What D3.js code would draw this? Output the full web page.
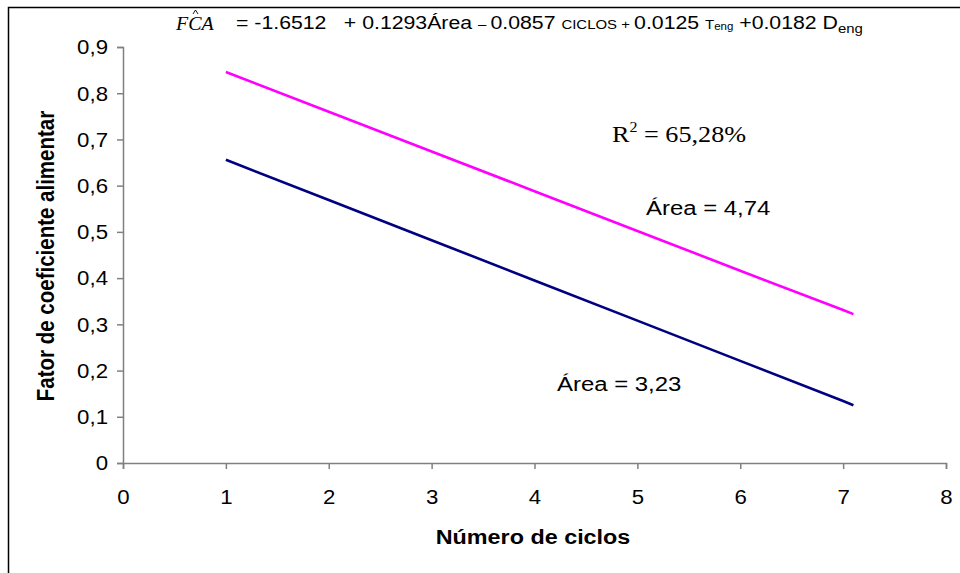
<!DOCTYPE html>
<html>
<head>
<meta charset="utf-8">
<script src="https://cdn.jsdelivr.net/npm/d3@7"></script>
<style>
  html, body { margin: 0; padding: 0; background: #fff; }
  svg { display: block; }
</style>
</head>
<body>
<svg id="chart" width="960" height="573"></svg>
<script>
// Number of cycles on the x axis
const ciclos = [1, 2, 3, 4, 5, 6, 7, 7.1];
// Predicted feed-coefficient factor for two pond areas
const fcaArea474 = [0.846, 0.760, 0.674, 0.588, 0.502, 0.416, 0.331, 0.322];
const fcaArea323 = [0.656, 0.569, 0.482, 0.395, 0.308, 0.221, 0.134, 0.125];
const seriesNames = ["Área = 4,74", "Área = 3,23"];
const seriesColors = ["#ff00ff", "#000080"];
const xTicks = [0, 1, 2, 3, 4, 5, 6, 7, 8];
const yTicks = [0, 0.1, 0.2, 0.3, 0.4, 0.5, 0.6, 0.7, 0.8, 0.9];

const svg = d3.select("#chart");
const fmt = d => String(d).replace(".", ",");
const sans = "Arial, 'Liberation Sans', sans-serif";
const serif = "'Liberation Serif', 'Times New Roman', serif";
const SX = 1.14; // horizontal widening of the lettering

// place a text at (x, y) and widen it horizontally around that anchor
function widen(sel, sx = SX) {
  sel.each(function () {
    const t = d3.select(this);
    const x = +t.attr("x") || 0, y = +t.attr("y") || 0;
    t.attr("x", 0).attr("y", 0)
      .attr("transform", `translate(${x},${y}) scale(${sx},1)`);
  });
  return sel;
}

// outer frame (top and left edges visible)
svg.append("path")
  .attr("d", "M8.5,573 L8.5,7.5 L960,7.5")
  .attr("fill", "none").attr("stroke", "#000").attr("stroke-width", 1.5);

const x = d3.scaleLinear().domain([0, 8]).range([123, 946]);
const y = d3.scaleLinear().domain([0, 0.9]).range([463, 47]);

const axisColor = "#808080";

// x axis
const gx = svg.append("g").attr("transform", `translate(0,${y(0)})`)
  .call(d3.axisBottom(x).tickValues(xTicks).tickFormat(fmt).tickSize(6));
// y axis
const gy = svg.append("g").attr("transform", `translate(${x(0)},0)`)
  .call(d3.axisLeft(y).tickValues(yTicks).tickFormat(fmt).tickSize(6));

[gx, gy].forEach(g => {
  g.select(".domain").attr("stroke", axisColor).attr("stroke-width", 1.5);
  g.selectAll(".tick line").attr("stroke", axisColor).attr("stroke-width", 1.5);
  g.selectAll(".tick text").attr("fill", "#000")
    .style("font-family", sans).style("font-size", "19.5px");
});
gx.selectAll(".tick text").attr("x", 0).attr("y", 0).attr("dy", null)
  .attr("transform", `translate(0,41) scale(${SX},1)`);
gy.selectAll(".tick text").attr("x", 0).attr("y", 0).attr("dy", "0.35em")
  .attr("transform", `translate(-15,0) scale(${SX},1)`);

// axis titles
widen(svg.append("text")
  .attr("x", 533).attr("y", 544).attr("text-anchor", "middle")
  .style("font-family", sans)
  .style("font-size", "20.5px").style("font-weight", "bold")
  .text("Número de ciclos"));
svg.append("text")
  .attr("transform", `translate(54,256) rotate(-90) scale(1,${SX})`).attr("text-anchor", "middle")
  .style("font-family", sans)
  .style("font-size", "20.5px").style("font-weight", "bold")
  .text("Fator de coeficiente alimentar");

// regression lines
const line = d3.line().x((d, i) => x(ciclos[i])).y(d => y(d));
[fcaArea474, fcaArea323].forEach((vals, k) => {
  svg.append("path").datum(vals)
    .attr("d", line)
    .attr("fill", "none")
    .attr("stroke", seriesColors[k])
    .attr("stroke-width", 2.6)
    .attr("stroke-linejoin", "round");
});

// line labels
widen(svg.append("text").attr("x", 646).attr("y", 215)
  .style("font-family", sans).style("font-size", "21px").text(seriesNames[0]));
widen(svg.append("text").attr("x", 557).attr("y", 391)
  .style("font-family", sans).style("font-size", "21px").text(seriesNames[1]));

// coefficient of determination
const r2 = widen(svg.append("text").attr("x", 612).attr("y", 142)
  .style("font-family", serif).style("font-size", "23px"));
r2.append("tspan").text("R");
r2.append("tspan").attr("dy", -10).style("font-size", "14px").text("2");
r2.append("tspan").attr("dy", 10).text(" = 65,28%");

// regression equation: FCA with a hat
svg.append("path")
  .attr("d", "M193,14 L195.5,10 L198,14")
  .attr("fill", "none").attr("stroke", "#000").attr("stroke-width", 0.9);
widen(svg.append("text").attr("x", 176).attr("y", 30)
  .style("font-family", serif).style("font-size", "19px").style("font-style", "italic")
  .text("FCA"), 1.05);
const eq = widen(svg.append("text").attr("x", 236).attr("y", 29)
  .style("font-family", sans).style("font-size", "18.5px"), 1.15);
eq.append("tspan").text("= -1.6512 ");
eq.append("tspan").attr("dx", 10).text("+ 0.1293Área ");
eq.append("tspan").style("font-size", "13px").text("– ");
eq.append("tspan").text("0.0857 ");
eq.append("tspan").style("font-size", "13px").text("CICLOS + ");
eq.append("tspan").text("0.0125 ");
eq.append("tspan").style("font-size", "13px").text("T");
eq.append("tspan").attr("dy", 1).style("font-size", "10px").text("eng");
eq.append("tspan").attr("dy", -1).text(" +0.0182 D");
eq.append("tspan").attr("dy", 4).style("font-size", "13px").text("eng");
</script>
</body>
</html>
